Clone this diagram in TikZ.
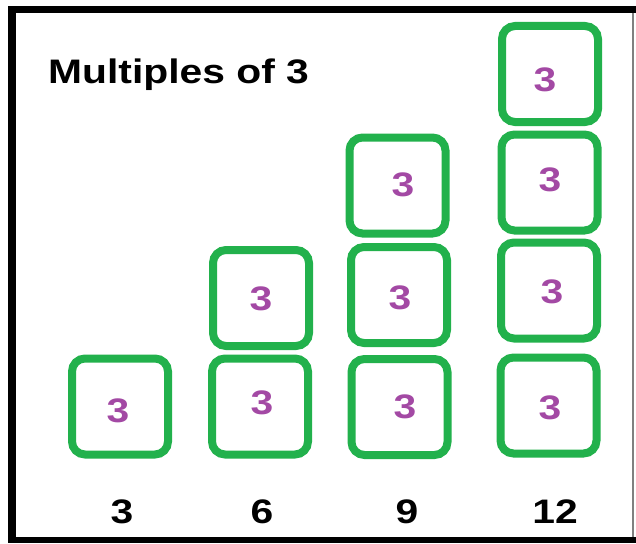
\documentclass[tikz,border=0pt]{standalone}
\usepackage{fontspec}
\setmainfont{Liberation Sans}[FakeStretch=1.2]
\definecolor{pgreen}{HTML}{22B14C}
\definecolor{ppurple}{HTML}{A349A4}
\begin{document}
\begin{tikzpicture}[x=1pt,y=-1pt,
  blk/.style={draw=pgreen,line width=8pt,rounded corners=13pt,minimum width=96pt,minimum height=96pt,inner sep=0pt},
  num/.style={text=ppurple,inner sep=0pt,font=\fontsize{34}{34}\selectfont\bfseries},
  lbl/.style={anchor=base,font=\fontsize{34}{34}\selectfont\bfseries,text=black}]
\useasboundingbox (0,0) rectangle (636,543);
\fill[white] (0,0) rectangle (636,543);
% frame
\fill[black] (8,6) rectangle (636,13);
\fill[black] (8,6) rectangle (16,543);
\fill[black] (8,537) rectangle (636,543);
\draw[gray,line width=1.5pt] (633,13) -- (633,537);
% title
\node[anchor=base west,inner sep=0pt,font=\fontsize{34}{34}\selectfont\bfseries] (title) at (48,83) {Multiples of 3};
% column 3
\node[blk] (a1) at (120,406.5) {};
% column 6
\node[blk] (b1) at (260,406.5) {};
\node[blk] (b2) at (261,298) {};
% column 9
\node[blk] (c1) at (399.5,407) {};
\node[blk] (c2) at (399,295) {};
\node[blk] (c3) at (397.5,185.5) {};
% column 12
\node[blk] (d1) at (548.5,405.5) {};
\node[blk] (d2) at (549,290.5) {};
\node[blk] (d3) at (549.5,182.5) {};
\node[blk] (d4) at (550,74) {};
% numbers in boxes
\node[num] (ta1) at (118,411) {3};
\node[num] (tb1) at (262,403) {3};
\node[num] (tb2) at (261,299) {3};
\node[num] (tc1) at (405,407) {3};
\node[num] (tc2) at (400,298) {3};
\node[num] (tc3) at (403,185) {3};
\node[num] (td1) at (550,408) {3};
\node[num] (td2) at (552,292) {3};
\node[num] (td3) at (550,180) {3};
\node[num] (td4) at (545,80) {3};
% labels
\node[lbl] (l1) at (122,523) {3};
\node[lbl] (l2) at (262,523) {6};
\node[lbl] (l3) at (407,523) {9};
\node[lbl] (l4) at (555,523) {12};
\end{tikzpicture}
\end{document}
